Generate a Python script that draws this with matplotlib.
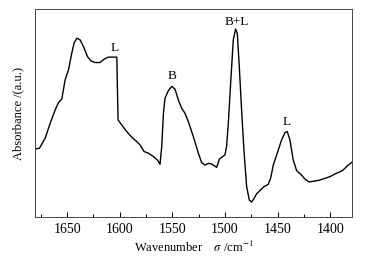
import numpy as np
import matplotlib
matplotlib.use("Agg")
import matplotlib.pyplot as plt
from matplotlib.ticker import MultipleLocator

# IR spectrum (wavenumber, absorbance in a.u.)
wavenumber = [1680.4, 1676.3, 1670.9, 1666.1, 1661.4, 1658.2, 1655.1, 1651.9, 1648.7,
              1645.6, 1643.4, 1640.8, 1637.7, 1634.5, 1630.7, 1627.5, 1623.4, 1618.7,
              1614.9, 1610.8, 1606.0, 1602.8, 1601.6, 1598.1, 1593.4, 1588.6, 1583.9,
              1580.7, 1576.9, 1572.8, 1568.0, 1564.2, 1561.7, 1560.1, 1558.5, 1557.0,
              1553.8, 1550.6, 1547.5, 1544.3, 1541.1, 1538.0, 1534.8, 1530.1, 1525.3,
              1522.2, 1519.0, 1515.8, 1512.7, 1510.4, 1507.9, 1505.4, 1503.2, 1500.0,
              1498.5, 1496.8, 1494.6, 1492.1, 1489.9, 1488.3, 1486.4, 1484.2, 1482.0,
              1479.4, 1476.9, 1474.7, 1472.5, 1470.0, 1466.8, 1463.0, 1458.9, 1456.6,
              1454.1, 1450.3, 1446.2, 1443.0, 1440.8, 1438.3, 1435.1, 1431.9, 1427.2,
              1424.1, 1420.0, 1414.6, 1409.8, 1405.1, 1400.3, 1395.6, 1390.8, 1387.7,
              1382.9, 1379.4]
absorbance = [0.327, 0.331, 0.379, 0.451, 0.515, 0.551, 0.567, 0.660, 0.708,
              0.788, 0.836, 0.860, 0.852, 0.820, 0.772, 0.751, 0.743, 0.743,
              0.759, 0.769, 0.769, 0.769, 0.467, 0.443, 0.411, 0.384, 0.363,
              0.347, 0.315, 0.307, 0.291, 0.274, 0.254, 0.339, 0.499, 0.571,
              0.608, 0.628, 0.615, 0.563, 0.523, 0.499, 0.459, 0.387, 0.307,
              0.262, 0.250, 0.258, 0.255, 0.247, 0.239, 0.278, 0.287, 0.299,
              0.339, 0.451, 0.644, 0.852, 0.904, 0.884, 0.724, 0.515, 0.323,
              0.146, 0.082, 0.072, 0.088, 0.111, 0.127, 0.146, 0.157, 0.186,
              0.250, 0.307, 0.371, 0.406, 0.411, 0.371, 0.274, 0.223, 0.202,
              0.183, 0.169, 0.173, 0.178, 0.186, 0.194, 0.207, 0.217, 0.226,
              0.250, 0.263]

peak_labels = ["L", "B", "B+L", "L"]
peak_x = [1605, 1550, 1489, 1441.5]
peak_y = [0.815, 0.679, 0.940, 0.459]

plt.rcParams["font.family"] = ["Liberation Serif", "DejaVu Serif"]
plt.rcParams["mathtext.fontset"] = "stix"

fig = plt.figure(figsize=(3.7, 2.59), dpi=100)
ax = fig.add_axes([0.095, 0.162, 0.856, 0.803])

ax.plot(wavenumber, absorbance, color="black", lw=1.0)
for lab, x, y in zip(peak_labels, peak_x, peak_y):
    ax.text(x, y, lab, ha="center", va="center", fontsize=9.5)

ax.set_xlim(1680.4, 1379.4)
ax.set_ylim(0, 1)
ax.xaxis.set_major_locator(MultipleLocator(50))
ax.xaxis.set_minor_locator(MultipleLocator(25))
ax.tick_params(axis="x", which="both", direction="in", top=False, labelsize=10, pad=4)
ax.tick_params(axis="x", which="major", length=3.5, width=0.7)
ax.tick_params(axis="x", which="minor", length=2, width=0.7)
ax.set_yticks([])
for s in ax.spines.values():
    s.set_linewidth(0.7)
    s.set_color("#444444")

ax.set_xlabel(r"Wavenumber    $\sigma$ /cm$^{-1}$", fontsize=9, labelpad=3)
ax.set_ylabel("Absorbance /(a.u.)", fontsize=9, labelpad=8)

plt.savefig("out.png", dpi=100)
